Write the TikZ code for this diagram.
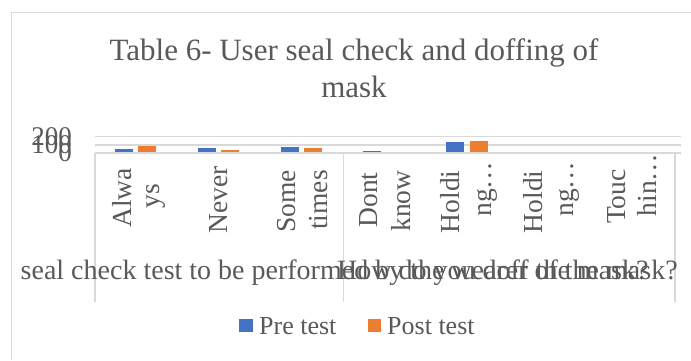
\documentclass[tikz,border=0pt]{standalone}
\usepackage{fontspec}
\setmainfont{Liberation Serif}
\usepackage{xcolor}
\definecolor{preB}{HTML}{4472C4}
\definecolor{postO}{HTML}{ED7D31}
\definecolor{gridG}{HTML}{D9D9D9}
\definecolor{txtG}{HTML}{595959}

\begin{document}
\begin{tikzpicture}[x=1pt,y=-1pt,
  lbl/.style={text=txtG,inner sep=0pt},
  ttl/.style={lbl,anchor=base,font=\fontsize{31}{36}\selectfont},
  ytk/.style={lbl,anchor=east,font=\fontsize{27}{30}\selectfont},
  cat/.style={lbl,rotate=90,anchor=base,font=\fontsize{27.5}{30}\selectfont},
  grp/.style={lbl,anchor=base west,font=\fontsize{28}{30}\selectfont},
  leg/.style={lbl,anchor=base west,font=\fontsize{26}{30}\selectfont},
  gline/.style={gridG,line width=1.5pt}]
  \useasboundingbox (0,0) rectangle (691,360);
  % chart frame
  \draw[gridG,line width=1pt] (11,360) -- (11,12) -- (691,12);

  \node[ttl] (title1) at (354,60) {Table 6- User seal check and doffing of};
  \node[ttl] (title2) at (354,97) {mask};

  % value axis
  \draw[gline] (95,136.5) -- (681,136.5);
  \draw[gline] (95,145) -- (681,145);
  \node[ytk] (y200) at (72,136.5) {200};
  \node[ytk] (y100) at (72,145) {100};
  \node[ytk] (y0) at (72,153) {0};

  % bars (pre, post)
  \fill[preB] (114.9,153) rectangle (132.9,149.3);
  \fill[postO] (138.4,153) rectangle (156.4,146);
  \fill[preB] (197.8,153) rectangle (215.8,148);
  \fill[postO] (221.3,153) rectangle (239.3,150);
  \fill[preB] (280.6,153) rectangle (298.6,147);
  \fill[postO] (304.1,153) rectangle (322.1,148.3);
  \fill[preB] (363.4,153) rectangle (381.4,151);
  \fill[postO!40] (386.9,153) rectangle (404.9,152.4);
  \fill[preB] (446.3,153) rectangle (464.3,142.3);
  \fill[postO] (469.8,153) rectangle (487.8,140.7);
  \fill[preB!40] (529.2,153) rectangle (547.2,152.3);
  \fill[postO!40] (552.7,153) rectangle (570.7,152.3);
  \fill[preB!30] (612.1,153) rectangle (630.1,152.4);

  % category axis
  \draw[gline] (95,153) -- (681,153);
  \draw[gline] (95,153) -- (95,302);
  \draw[gline] (343.5,153) -- (343.5,302);
  \draw[gline] (675,153) -- (675,302);

  \node[cat] (alw1) at (131.5,198) {Alwa};
  \node[cat] (alw2) at (159,196) {ys};
  \node[cat] (nev) at (227,199.5) {Never};
  \node[cat] (som1) at (295,201.5) {Some};
  \node[cat] (som2) at (327,200) {times};
  \node[cat] (dnk1) at (377,200) {Dont};
  \node[cat] (dnk2) at (410,201) {know};
  \node[cat] (hldA1) at (459,201.7) {Holdi};
  \node[cat] (hldA2) at (491,189) {ng…};
  \node[cat] (hldB1) at (542,201.7) {Holdi};
  \node[cat] (hldB2) at (573,189) {ng…};
  \node[cat] (tch1) at (625,196.7) {Touc};
  \node[cat] (tch2) at (656,185) {hin…};

  \node[grp] (grpSeal) at (20.5,279) {seal check test to be performed by the wearer of the mask?};
  \node[grp] (grpDoff) at (337,279) {How do you doff the mask?};

  % legend
  \fill[preB] (239.3,319) rectangle (252.7,332.3);
  \node[leg] (legPre) at (259,334) {Pre test};
  \fill[postO] (367.7,319) rectangle (381,332.3);
  \node[leg] (legPost) at (387,334) {Post test};
\end{tikzpicture}
\end{document}
